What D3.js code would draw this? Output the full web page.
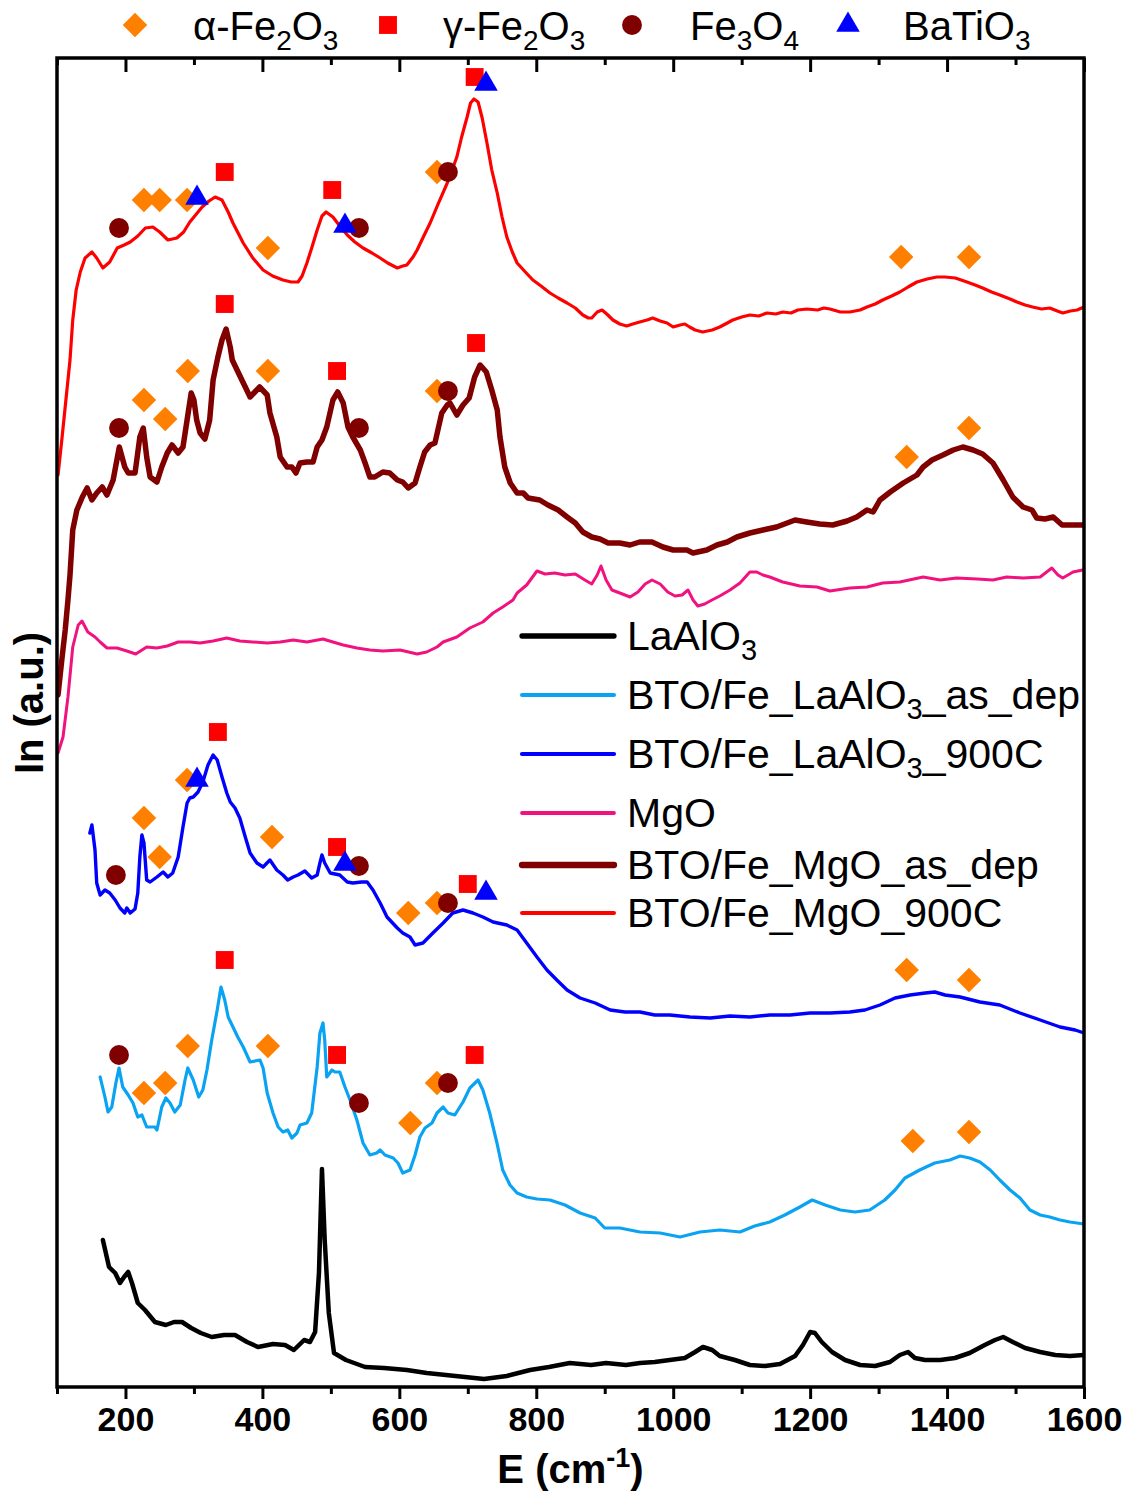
<!DOCTYPE html>
<html>
<head>
<meta charset="utf-8">
<script src="https://cdn.jsdelivr.net/npm/d3@7"></script>
<style>
  html, body { margin: 0; padding: 0; background: #fff; }
  svg { display: block; }
  text { font-family: "Liberation Sans", Arial, Helvetica, sans-serif; }
</style>
</head>
<body>
<svg id="chart" width="1131" height="1492"></svg>
<script>
// ---- Raman spectra, [wavenumber (cm^-1), intensity (a.u., vertically offset)] ----
const bto_mgo_900 = [
  [101.5,912],[107,947],[113,987],[119,1027],[123,1067],[128,1097],[134,1115],[141,1129],[151,1135],
  [158,1129],[167,1119],[177,1125],[188,1139],[198,1142],[207,1145],[218,1151],[229,1159],[240,1160],
  [250,1155],[262,1147],[275,1149],[285,1155],[294,1165],[312,1180],[322,1186],[331,1190],[341,1187],
  [350,1175],[357,1164],[372,1144],[386,1129],[401,1117],[415,1111],[430,1107],[442,1105],[452,1105],
  [458,1111],[465,1124],[472,1139],[480,1157],[487,1171],[493,1175],[503,1170],[513,1161],[524,1152],
  [535,1145],[547,1139],[560,1134],[572,1129],[583,1124],[597,1119],[605,1121],[611,1122],[620,1130],
  [626,1137],[635,1150],[645,1164],[656,1182],[670,1204],[677,1217],[684,1230],[691,1250],[699,1270],
  [704,1284],[709,1288],[715,1285],[721,1269],[728,1244],[735,1217],[743,1194],[750,1170],[757,1150],
  [765,1135],[772,1124],[784,1115],[795,1107],[807,1101],[820,1094],[832,1089],[845,1084],[857,1079],
  [868,1072],[876,1069],[881,1069],[889,1075],[896,1077],[903,1073],[912,1067],[922,1063],[932,1061],
  [941,1063],[951,1065],[962,1067],[970,1069],[981,1066],[991,1064],[1000,1060],[1010,1062],[1017,1063],
  [1024,1060],[1032,1057],[1043,1055],[1057,1057],[1068,1060],[1079,1064],[1087,1067],[1100,1070],
  [1112,1072],[1125,1071],[1137,1074],[1150,1073],[1160,1075],[1172,1074],[1182,1077],[1195,1078],
  [1211,1077],[1220,1079],[1229,1078],[1244,1075],[1258,1075],[1273,1077],[1283,1080],[1295,1083],
  [1306,1087],[1319,1091],[1331,1095],[1343,1100],[1356,1105],[1371,1108],[1385,1110],[1397,1110],
  [1412,1109],[1429,1105],[1441,1102],[1452,1099],[1465,1095],[1477,1092],[1492,1088],[1502,1085],
  [1514,1082],[1525,1080],[1538,1078],[1550,1079],[1561,1076],[1569,1074],[1580,1076],[1590,1077],[1600,1080]
];

const bto_mgo_asdep = [
  [101.5,692],[107,727],[112,757],[116,787],[119,812],[123,857],[129,877],[137,890],[144,899],[151,887],
  [158,894],[166,900],[173,892],[182,907],[191,940],[199,920],[204,914],[214,914],[221,950],[226,959],
  [231,930],[236,910],[246,905],[253,920],[261,934],[268,942],[277,934],[284,940],[290,967],[296,994],
  [300,987],[304,967],[309,954],[316,948],[323,967],[328,1007],[335,1030],[341,1047],[347,1058],[353,1040],
  [356,1027],[363,1017],[370,1007],[375,1000],[382,990],[389,995],[396,1000],[407,992],[411,974],[421,950],
  [426,930],[436,920],[443,920],[449,914],[455,924],[465,925],[474,925],[480,940],[487,947],[494,960],
  [503,987],[510,995],[518,984],[525,960],[532,950],[543,937],[550,924],[557,910],[564,910],[576,915],
  [586,914],[597,907],[605,905],[613,899],[623,904],[630,920],[637,935],[645,942],[652,944],[662,974],
  [670,982],[674,984],[684,972],[693,982],[702,989],[710,1010],[718,1022],[727,1015],[735,997],[743,977],
  [747,950],[754,920],[762,904],[772,894],[781,894],[788,889],[805,887],[817,882],[832,877],[845,870],
  [857,864],[868,855],[881,850],[893,848],[905,844],[922,844],[937,842],[951,845],[969,845],[985,840],
  [1000,837],[1020,837],[1029,834],[1049,837],[1064,842],[1079,845],[1093,850],[1112,854],[1131,857],
  [1151,860],[1178,867],[1195,865],[1214,863],[1233,862],[1254,866],[1268,870],[1283,877],[1292,875],
  [1302,887],[1317,895],[1336,904],[1356,912],[1365,920],[1378,927],[1394,932],[1409,937],[1423,940],
  [1438,937],[1452,933],[1467,924],[1482,907],[1496,890],[1511,880],[1524,877],[1531,869],[1543,868],
  [1555,870],[1568,862],[1584,862],[1600,862]
];

const mgo_substrate = [
  [101.5,634],[108.8,650],[116,690],[123,740],[131,762],[136.5,766],[145,755],[155.5,750],[163,745],
  [173,739],[187.6,739],[202,736],[215,733],[231,740],[246,739],[261,741],[277,745],[294,745],[309,744],
  [328,746],[348,749],[367,746],[386,745],[407,744],[426,745],[445,747],[465,745],[488.5,748],[503,745],
  [518,742],[538,739],[557,737],[576,736],[601,737],[626,733],[640,735],[655,740],[664,745],[684,750],
  [703,759],[722,765],[737,774],[751,780],[766,787],[772,794],[786,802],[801,816],[813,813],[827,814],
  [842,812],[857,813],[871,807],[881,803],[889,812],[894.5,821],[902,807],[910.5,797],[922,794],[937,790],
  [948.5,795],[959,803],[969,807],[981,803],[992,795],[1002.6,791],[1013,792],[1021.6,797],[1029,787],
  [1036,781],[1046,783],[1056.6,787],[1068,791],[1083,797],[1097.5,804],[1112,815],[1122,815],[1131,812],
  [1141,810],[1160,805],[1185,801],[1210,800],[1229,796],[1258,799],[1283,800],[1306,804],[1331,805],
  [1365,810],[1390,807],[1414,809],[1444,808],[1467,807],[1487,810],[1511,809],[1536,810],[1553,819],
  [1562,812],[1569,809],[1584,815],[1598,817]
];

const bto_lao_900 = [
  [148,554],[151,562],[155.5,537],[158,504],[163,492],[170,497],[177,494],[185,487],[192,479],[199,474],
  [202,479],[207,474],[214,478],[218,494],[221,530],[224,552],[227,544],[231,507],[236,505],[246,510],
  [255,515],[262,510],[269,514],[277,530],[284,560],[290,584],[294,589],[299,590],[306,595],[313,605],
  [320.5,622],[328,632],[334,627],[341,610],[348,594],[353,585],[360,579],[367,569],[375,550],[382,534],
  [392,524],[401,520],[411,527],[421,517],[430,512],[437,507],[445,510],[452,512],[462,516],[472,509],
  [480,512],[484,524],[487,532],[491,524],[499,514],[513,512],[524,505],[532,504],[545,505],[553,505],
  [561.5,497],[572,484],[582,470],[597,459],[605,454],[615.5,450],[623,442],[634.5,444],[649,454],
  [664,464],[678,474],[693,477],[707.6,474],[722,470],[737,465],[757,462],[772,457],[786,444],[801,430],
  [815.6,417],[830,407],[845,397],[864,389],[886,384],[908,377],[929.6,375],[951.5,375],[973,372],
  [995,372],[1024.5,370],[1054,369],[1083,371],[1112,370],[1141,372],[1170.5,372],[1200,374],[1229,374],
  [1258,375],[1280,377],[1302,382],[1324,389],[1346,392],[1368,394],[1382,395],[1397,392],[1419,390],
  [1448,385],[1477,382],[1506.5,374],[1536,367],[1565,360],[1587,357],[1600,354]
];

const bto_lao_asdep = [
  [163,310],[170,290],[174.5,275],[180,280],[186,304],[190.6,319],[196,300],[204,292],[211,284],[218,270],
  [224,272],[231,260],[243,260],[246,257],[253,280],[259,289],[265,284],[272,275],[280,282],[287,307],
  [291,319],[299,307],[307,290],[313,297],[319,317],[326,347],[334,377],[339.5,400],[345,387],[350,370],
  [357,360],[364,350],[372,340],[382,325],[396.5,327],[401,319],[407,294],[415.5,274],[423,260],[430,255],
  [437,257],[443,249],[450.5,254],[455,262],[465,264],[472,274],[480,320],[484,354],[488.5,364],[491,347],
  [494,310],[501.6,317],[506,315],[513,315],[520.6,300],[528,287],[538,267],[547,244],[557,232],[567,234],
  [572,237],[579,232],[591,229],[598,224],[605,214],[615.6,217],[623,232],[630,250],[637.5,259],[647.7,264],
  [655,274],[664,280],[671,274],[681,272],[693,285],[703,299],[715,307],[722,297],[732,274],[742.6,244],
  [751,217],[761.6,202],[772,194],[786,190],[801,188],[820,187],[842,182],[864,174],[886,169],[900,159],
  [922,159],[951.5,155],[981,154],[1010,150],[1039,155],[1068,157],[1097.5,155],[1119,161],[1141,165],
  [1163,172],[1185,180],[1203,187],[1222,182],[1244,177],[1265.5,175],[1287,177],[1309,187],[1324,197],
  [1338.5,209],[1360,217],[1382,224],[1404,227],[1419,231],[1433,229],[1448,225],[1463,217],[1477,207],
  [1492,197],[1506.5,189],[1521,177],[1536,172],[1550,170],[1565,167],[1579.5,165],[1600,163]
];

const lao_substrate = [
  [167,147],[176,120],[185,114],[192,104],[198,110],[204,115],[209.5,104],[218,84],[228.5,77],[243,65],
  [259,62],[271,65],[282.6,65],[296,59],[310,54],[326,50],[344,52],[360,52],[377.5,45],[393.6,40],
  [415.5,43],[433,42],[446,37],[461,47],[469.5,45],[477,55],[482.6,114],[487,218],[491,147],[497,74],
  [504.6,34],[522,27],[550,20],[577.6,19],[611,17],[640,14],[668,12],[696,10],[723.6,8],[757,11],
  [791,17],[818.6,20],[849,24],[880,22],[902,24],[931,22],[951.5,24],[973,25],[995,27],[1017,29],
  [1032,35],[1043.5,40],[1057,37],[1068,31],[1090,27],[1112,22],[1134,21],[1156,23],[1178,31],[1189.5,42],
  [1200,55],[1207,54],[1217,45],[1232,35],[1251,27],[1273,22],[1295,21],[1316.6,25],[1331,32],[1343,35],
  [1353,29],[1368,27],[1390,27],[1411.5,29],[1433,34],[1455,42],[1470,47],[1482,50],[1496,45],[1514,39],
  [1536,35],[1558,32],[1579.5,31],[1600,32]
];

// ---- Phase assignments: [wavenumber, height on the plot] ----
const alphaFe2O3 = [
  [227,1187],[250,1187],[290,1187],[408,1139],[655,1215],[1333,1130],[1432,1130],
  [227,987],[258,968],[291,1016],[408,1016],[655,996],[1341,930],[1432,959],
  [227,569],[250,530],[290,607],[414,550],[613,474],[655,484],[1341,417],[1432,407],
  [227,294],[258,304],[291,341],[408,341],[616,264],[655,304],[1350,246],[1432,255]
];
const gammaFe2O3 = [
  [345,1215],[502,1197],[710,1310],
  [345,1083],[509,1016],[712,1044],
  [335,655],[509,540],[700,503],
  [345,427],[509,332],[710,332]
];
const fe3o4 = [
  [190.6,1159],[541,1159],[671,1215],
  [190.6,959],[541,959],[671,996],
  [186,512],[541,521],[671,484],
  [190.6,332],[541,284],[671,304]
];
const batio3 = [
  [304.5,1189],[520.6,1161],[726.6,1303],
  [304.5,607],[520.6,523],[726.6,494]
];

const majorTicks = [200, 400, 600, 800, 1000, 1200, 1400, 1600];
const minorTicks = [100, 300, 500, 700, 900, 1100, 1300, 1500];

// series in legend order: [main text, subscript, text after subscript]
const seriesLabels = [
  ["LaAlO", "3", ""],
  ["BTO/Fe_LaAlO", "3", "_as_dep"],
  ["BTO/Fe_LaAlO", "3", "_900C"],
  ["MgO", "", ""],
  ["BTO/Fe_MgO_as_dep", "", ""],
  ["BTO/Fe_MgO_900C", "", ""]
];
const seriesData = [lao_substrate, bto_lao_asdep, bto_lao_900, mgo_substrate, bto_mgo_asdep, bto_mgo_900];
const seriesStyle = [
  {color: "#000000", width: 4.5},
  {color: "#0AA3F2", width: 3.2},
  {color: "#0000FF", width: 3.4},
  {color: "#F2127F", width: 3},
  {color: "#800000", width: 5.5},
  {color: "#FF0000", width: 3.2}
];

// ---- layout ----
const svg = d3.select("#chart");
const plot = {left: 57, right: 1084, top: 58, bottom: 1387};
const x = d3.scaleLinear().domain([100, 1600]).range([plot.left, plot.right]);
const y = d3.scaleLinear().domain([0, 1329]).range([plot.bottom, plot.top]);

svg.append("clipPath").attr("id", "clip")
  .append("rect").attr("x", plot.left).attr("y", plot.top)
  .attr("width", plot.right - plot.left).attr("height", plot.bottom - plot.top);

const line = d3.line().x(d => x(d[0])).y(d => y(d[1]));

// spectra
const g = svg.append("g").attr("clip-path", "url(#clip)");
seriesData.forEach((data, i) => {
  g.append("path").datum(data)
    .attr("d", line)
    .attr("fill", "none")
    .attr("stroke", seriesStyle[i].color)
    .attr("stroke-width", seriesStyle[i].width)
    .attr("stroke-linejoin", "round")
    .attr("stroke-linecap", "round");
});

// phase markers
const diamond = d3.symbol().type(d3.symbolSquare).size(300);
const square = d3.symbol().type(d3.symbolSquare).size(320);
const circle = d3.symbol().type(d3.symbolCircle).size(310);
const triangle = d3.symbol().type(d3.symbolTriangle).size(240);
const phases = [
  {data: alphaFe2O3, sym: diamond, color: "#FF8000", rot: 45},
  {data: gammaFe2O3, sym: square, color: "#FF0000", rot: 0},
  {data: fe3o4, sym: circle, color: "#800000", rot: 0},
  {data: batio3, sym: triangle, color: "#0000FF", rot: 0}
];
phases.forEach(p => {
  svg.append("g").selectAll("path").data(p.data).join("path")
    .attr("d", p.sym())
    .attr("fill", p.color)
    .attr("transform", d => `translate(${x(d[0])},${y(d[1])}) rotate(${p.rot})`);
});

// axes
const axisFont = "bold 34px 'Liberation Sans', Arial, sans-serif";
const bottomMajor = d3.axisBottom(x).tickValues(majorTicks).tickSize(12).tickPadding(8).tickFormat(d3.format("d"));
const bottomMinor = d3.axisBottom(x).tickValues(minorTicks).tickSize(7).tickFormat("");
const topMajor = d3.axisBottom(x).tickValues(majorTicks).tickSize(14).tickFormat("");
const topMinor = d3.axisBottom(x).tickValues(minorTicks).tickSize(7).tickFormat("");

function styleAxis(sel) {
  sel.select(".domain").remove();
  sel.selectAll(".tick line").attr("stroke", "#000").attr("stroke-width", 3);
}
svg.append("g").attr("transform", `translate(0,${plot.bottom})`).call(bottomMajor).call(styleAxis)
  .selectAll("text").style("font", axisFont).attr("fill", "#000");
svg.append("g").attr("transform", `translate(0,${plot.bottom})`).call(bottomMinor).call(styleAxis);
svg.append("g").attr("transform", `translate(0,${plot.top})`).call(topMajor).call(styleAxis);
svg.append("g").attr("transform", `translate(0,${plot.top})`).call(topMinor).call(styleAxis);

// frame
svg.append("rect")
  .attr("x", plot.left).attr("y", plot.top)
  .attr("width", plot.right - plot.left).attr("height", plot.bottom - plot.top)
  .attr("fill", "none").attr("stroke", "#000").attr("stroke-width", 3.5);

// axis titles
const xt = svg.append("text")
  .attr("x", (plot.left + plot.right) / 2).attr("y", 1483)
  .attr("text-anchor", "middle")
  .style("font", "bold 40px 'Liberation Sans', Arial, sans-serif");
xt.append("tspan").text("E (cm");
xt.append("tspan").attr("dy", -16).style("font-size", "27px").text("-1");
xt.append("tspan").attr("dy", 16).text(")");

svg.append("text")
  .attr("transform", "translate(43,703) rotate(-90)")
  .attr("text-anchor", "middle")
  .style("font", "bold 40px 'Liberation Sans', Arial, sans-serif")
  .text("In (a.u.)");

// chemical formula with subscripts; the baseline is restored on the following part
function chem(textSel, parts, size) {
  const subSize = Math.round(size * 0.7);
  const drop = Math.round(size * 0.24);
  let lowered = false;
  parts.forEach(p => {
    const ts = textSel.append("tspan").text(p.t);
    if (p.sub) {
      ts.attr("dy", lowered ? 0 : drop).style("font-size", subSize + "px");
      lowered = true;
    } else if (lowered) {
      ts.attr("dy", -drop);
      lowered = false;
    }
  });
}

// phase legend along the top
const phaseLegend = [
  {sym: diamond, color: "#FF8000", rot: 45, sx: 135, tx: 193, parts: [{t: "\u03B1-Fe"}, {t: "2", sub: 1}, {t: "O"}, {t: "3", sub: 1}]},
  {sym: square, color: "#FF0000", rot: 0, sx: 388, tx: 443, parts: [{t: "\u03B3-Fe"}, {t: "2", sub: 1}, {t: "O"}, {t: "3", sub: 1}]},
  {sym: circle, color: "#800000", rot: 0, sx: 632, tx: 690, parts: [{t: "Fe"}, {t: "3", sub: 1}, {t: "O"}, {t: "4", sub: 1}]},
  {sym: triangle, color: "#0000FF", rot: 0, sx: 848, tx: 903, parts: [{t: "BaTiO"}, {t: "3", sub: 1}]}
];
phaseLegend.forEach(p => {
  svg.append("path").attr("d", p.sym()).attr("fill", p.color)
    .attr("transform", `translate(${p.sx},25) rotate(${p.rot})`);
  const t = svg.append("text").attr("x", p.tx).attr("y", 40)
    .style("font-size", "40px").attr("fill", "#000");
  chem(t, p.parts, 40);
});

// series legend
const legendY = [636, 695, 754, 813, 865, 913];
seriesLabels.forEach((lab, i) => {
  svg.append("line")
    .attr("x1", 522).attr("x2", 614).attr("y1", legendY[i]).attr("y2", legendY[i])
    .attr("stroke", seriesStyle[i].color)
    .attr("stroke-width", seriesStyle[i].width + 0.8)
    .attr("stroke-linecap", "round");
  const t = svg.append("text").attr("x", 627).attr("y", legendY[i] + 14)
    .style("font-size", "41px").attr("fill", "#000");
  const parts = [{t: lab[0]}];
  if (lab[1]) parts.push({t: lab[1], sub: 1});
  if (lab[2]) parts.push({t: lab[2]});
  chem(t, parts, 41);
});
</script>
</body>
</html>
